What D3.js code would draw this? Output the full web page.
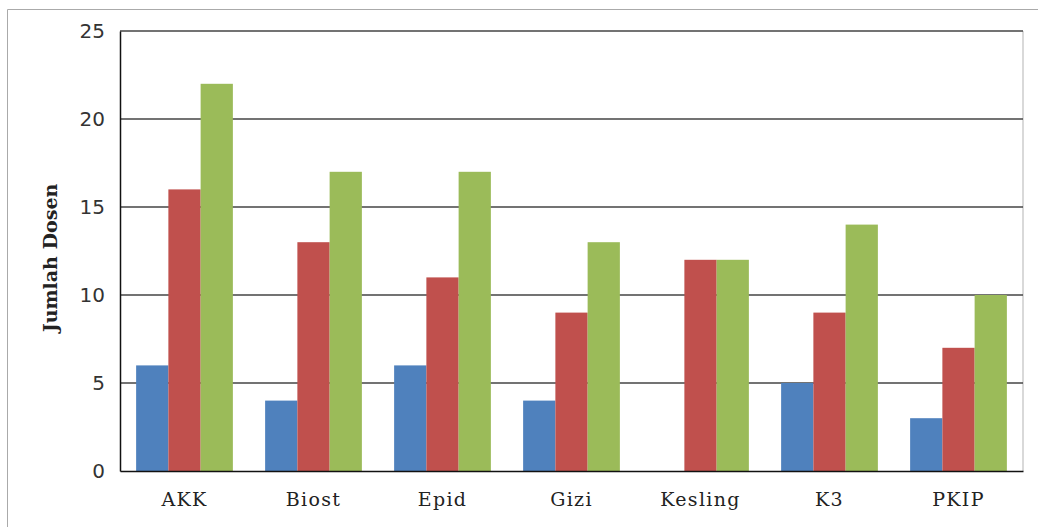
<!DOCTYPE html>
<html lang="id">
<head>
<meta charset="UTF-8"/>
<title>Jumlah Dosen</title>
<script src="https://d3js.org/d3.v7.min.js"></script>
<style>
  body { margin: 0; background: #fff; }
</style>
</head>
<body>
<svg width="1038" height="527"></svg>
<script>
  const categories = ['AKK', 'Biost', 'Epid', 'Gizi', 'Kesling', 'K3', 'PKIP'];
  const seriesNames = ['s1', 's2', 's3'];
  const series1 = [6, 4, 6, 4, 0, 5, 3];
  const series2 = [16, 13, 11, 9, 12, 9, 7];
  const series3 = [22, 17, 17, 13, 12, 14, 10];
  const yTicks = [0, 5, 10, 15, 20, 25];
  const colors = ['#4f81bd', '#c0504d', '#9bbb59'];

  const allSeries = [series1, series2, series3];

  const svg = d3.select('svg');

  // outer frame (only left/top edges visible)
  svg.append('path')
    .attr('d', 'M7.5,527 V9.5 H1038')
    .attr('fill', 'none')
    .attr('stroke', '#aaa')
    .attr('stroke-width', 1);

  const margin = { left: 120, top: 31, right: 15, bottom: 56 };
  const width = 1038 - margin.left - margin.right;
  const height = 527 - margin.top - margin.bottom;

  const chart = svg.append('g')
    .attr('transform', `translate(${margin.left}, ${margin.top})`);

  const x0 = d3.scaleBand()
    .domain(categories)
    .range([0, width])
    .paddingInner(0.25)
    .paddingOuter(0.125);

  const x1 = d3.scaleBand()
    .domain(seriesNames)
    .range([0, x0.bandwidth()]);

  const y = d3.scaleLinear()
    .domain([0, 25])
    .range([height, 0]);

  // right border of plot area
  chart.append('line')
    .attr('x1', width).attr('x2', width)
    .attr('y1', 0).attr('y2', height)
    .attr('stroke', '#ccc')
    .attr('stroke-width', 1.5);

  // gridlines
  chart.append('g')
    .selectAll('line')
    .data(yTicks.filter(d => d > 0))
    .enter()
    .append('line')
    .attr('x1', 0)
    .attr('x2', width)
    .attr('y1', d => y(d))
    .attr('y2', d => y(d))
    .attr('stroke', '#444')
    .attr('stroke-width', 1.5);

  const table = categories.map((c, i) => ({
    cat: c,
    vals: allSeries.map((s, j) => ({ key: seriesNames[j], value: s[i], color: colors[j] }))
  }));

  const groups = chart.selectAll('.grp')
    .data(table)
    .enter()
    .append('g')
    .attr('class', 'grp')
    .attr('transform', d => `translate(${x0(d.cat)}, 0)`);

  groups.selectAll('rect')
    .data(d => d.vals)
    .enter()
    .append('rect')
    .attr('x', d => x1(d.key))
    .attr('y', d => y(d.value))
    .attr('width', x1.bandwidth())
    .attr('height', d => height - y(d.value))
    .attr('fill', d => d.color);

  // y axis
  const yAxis = chart.append('g')
    .call(d3.axisLeft(y).tickValues(yTicks).tickSize(0).tickPadding(15));
  yAxis.select('.domain').attr('stroke', '#111').attr('stroke-width', 1.5);
  yAxis.selectAll('text')
    .attr('font-family', 'DejaVu Sans, sans-serif')
    .attr('font-size', 20)
    .attr('fill', '#333');

  // x axis
  const xAxis = chart.append('g')
    .attr('transform', `translate(0, ${height})`)
    .call(d3.axisBottom(x0).tickSize(0));
  xAxis.select('.domain').attr('stroke', '#111').attr('stroke-width', 1.5);
  xAxis.selectAll('text')
    .attr('y', 35)
    .attr('dy', 0)
    .attr('font-family', 'DejaVu Serif, serif')
    .attr('font-size', 19)
    .attr('letter-spacing', 1.3)
    .attr('fill', '#222');

  svg.append('text')
    .attr('transform', `translate(57, 258) rotate(-90)`)
    .attr('text-anchor', 'middle')
    .attr('font-family', 'DejaVu Serif, serif')
    .attr('font-weight', 'bold')
    .attr('font-size', 19)
    .attr('fill', '#222')
    .text('Jumlah Dosen');
</script>
</body>
</html>
